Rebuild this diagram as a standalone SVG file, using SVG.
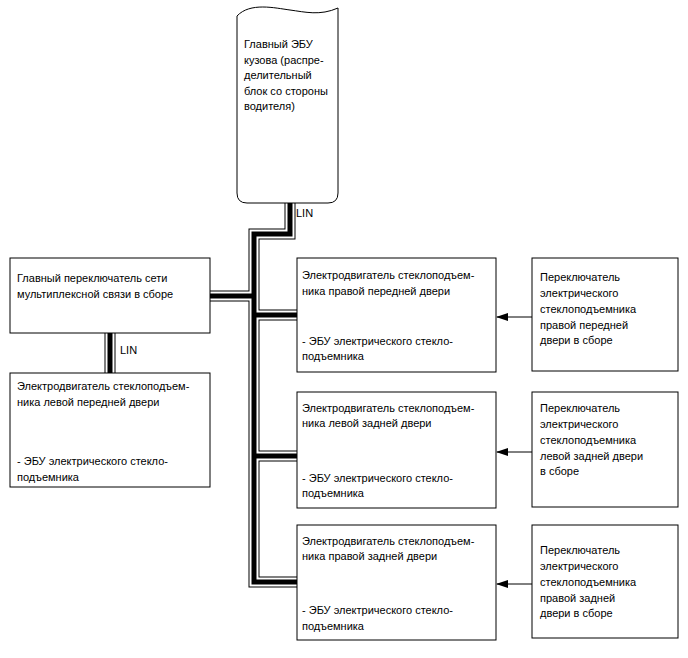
<svg xmlns="http://www.w3.org/2000/svg" width="688" height="658" viewBox="0 0 688 658">
<defs>
<style>
.box{fill:#fff;stroke:#000;stroke-width:1}
text{font-family:"Liberation Sans",Arial,sans-serif;font-size:11px;fill:#000}
.b1{fill:none;stroke:#000;stroke-width:11;stroke-linejoin:miter}
.b2{fill:none;stroke:#fff;stroke-width:9;stroke-linejoin:miter}
.b3{fill:none;stroke:#000;stroke-width:5;stroke-linejoin:miter}
.ar{fill:none;stroke:#000;stroke-width:1}
</style>
<marker id="ah" markerWidth="12" markerHeight="8" refX="11" refY="4" orient="auto" markerUnits="userSpaceOnUse">
<path d="M0,0 L12,4 L0,8 Z" fill="#000"/>
</marker>
</defs>
<rect width="688" height="658" fill="#fff"/>
<g id="connectors">
<path class="b1" d="M290,203 V234 H254 V582 H297 M210,296 H254 M254,315 H297 M254,456 H297 M110,333 V373"/>
<path class="b2" d="M290,203 V234 H254 V582 H297 M210,296 H254 M254,315 H297 M254,456 H297 M110,333 V373"/>
<path class="b3" d="M290,203 V234 H254 V582 H297 M210,296 H254 M254,315 H297 M254,456 H297 M110,333 V373"/>
<line class="ar" x1="532" y1="317" x2="497" y2="317" marker-end="url(#ah)"/>
<line class="ar" x1="532" y1="452" x2="497" y2="452" marker-end="url(#ah)"/>
<line class="ar" x1="532" y1="584" x2="497" y2="584" marker-end="url(#ah)"/>
<text x="296" y="217">LIN</text>
<text x="120" y="354">LIN</text>
</g>
<g id="ecu-main">
<path class="box" d="M237,16 C250,2 275,8 290,10 C305,12 320,16 338,8 V193 Q338,203 328,203 H247 Q237,203 237,193 Z"/>
<text x="244" y="48">Главный ЭБУ</text>
<text x="244" y="64">кузова (распре-</text>
<text x="244" y="79">делительный</text>
<text x="244" y="95">блок со стороны</text>
<text x="244" y="110">водителя)</text>
</g>
<g id="main-switch">
<rect class="box" x="10" y="258" width="200" height="75"/>
<text x="17" y="282">Главный переключатель сети</text>
<text x="17" y="298">мультиплексной связи в сборе</text>
</g>
<g id="motor-lf">
<rect class="box" x="10" y="373" width="200" height="114"/>
<text x="17" y="390">Электродвигатель стеклоподъем-</text>
<text x="17" y="406">ника левой передней двери</text>
<text x="17" y="465">- ЭБУ электрического стекло-</text>
<text x="17" y="481">подъемника</text>
</g>
<g id="motor-rf">
<rect class="box" x="297" y="258" width="199" height="114"/>
<text x="302" y="279">Электродвигатель стеклоподъем-</text>
<text x="302" y="295">ника правой передней двери</text>
<text x="302" y="345">- ЭБУ электрического стекло-</text>
<text x="302" y="360">подъемника</text>
</g>
<g id="motor-lr">
<rect class="box" x="297" y="392" width="199" height="116"/>
<text x="302" y="412">Электродвигатель стеклоподъем-</text>
<text x="302" y="427">ника левой задней двери</text>
<text x="302" y="482">- ЭБУ электрического стекло-</text>
<text x="302" y="497">подъемника</text>
</g>
<g id="motor-rr">
<rect class="box" x="297" y="525" width="199" height="115"/>
<text x="302" y="545">Электродвигатель стеклоподъем-</text>
<text x="302" y="560">ника правой задней двери</text>
<text x="302" y="614">- ЭБУ электрического стекло-</text>
<text x="302" y="630">подъемника</text>
</g>
<g id="switch-rf">
<rect class="box" x="532" y="258" width="146" height="113"/>
<text x="540" y="281">Переключатель</text>
<text x="540" y="297">электрического</text>
<text x="540" y="313">стеклоподъемника</text>
<text x="540" y="329">правой передней</text>
<text x="540" y="344">двери в сборе</text>
</g>
<g id="switch-lr">
<rect class="box" x="532" y="392" width="146" height="115"/>
<text x="540" y="412">Переключатель</text>
<text x="540" y="428">электрического</text>
<text x="540" y="444">стеклоподъемника</text>
<text x="540" y="460">левой задней двери</text>
<text x="540" y="475">в сборе</text>
</g>
<g id="switch-rr">
<rect class="box" x="532" y="525" width="146" height="113"/>
<text x="540" y="554">Переключатель</text>
<text x="540" y="570">электрического</text>
<text x="540" y="586">стеклоподъемника</text>
<text x="540" y="602">правой задней</text>
<text x="540" y="617">двери в сборе</text>
</g>
</svg>
